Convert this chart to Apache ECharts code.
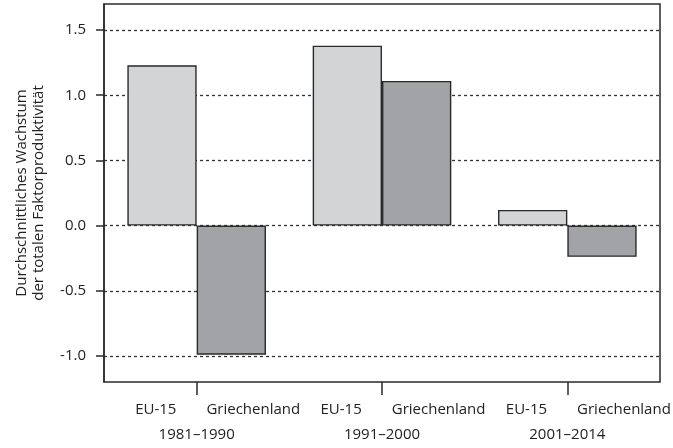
<!DOCTYPE html>
<html>
<head>
<meta charset="utf-8">
<script src="https://cdn.jsdelivr.net/npm/echarts@6/dist/echarts.min.js"></script>
<style>html,body{margin:0;padding:0;background:#fff}#c{width:673px;height:448px}</style>
</head>
<body>
<div id="c"></div>
<script>
const periods = ['1981–1990', '1991–2000', '2001–2014'];
const seriesNames = ['EU-15', 'Griechenland'];
const eu15 = [1.23, 1.38, 0.12];
const greece = [-0.99, 1.11, -0.24];
const yTicks = [-1.0, -0.5, 0.0, 0.5, 1.0, 1.5];
const yTitle = 'Durchschnittliches Wachstum\nder totalen Faktorproduktivität';

const FONT = 'Open Sans';
const INK = '#2a2a2a';
const chart = echarts.init(document.getElementById('c'), null, {renderer: 'canvas'});
chart.setOption({
  animation: false,
  backgroundColor: '#fff',
  textStyle: {fontFamily: FONT},
  grid: {left: 104, right: 13, top: 4, bottom: 66, show: true, borderColor: INK, borderWidth: 1.5,
         backgroundColor: 'transparent', containLabel: false, outerBoundsMode: 'none'},
  xAxis: {
    type: 'category',
    data: periods,
    boundaryGap: true,
    axisLine: {show: false, onZero: false},
    axisTick: {show: true, alignWithLabel: true, length: 13, lineStyle: {color: INK, width: 1.5}},
    axisLabel: {
      margin: 16,
      interval: 0,
      color: '#222',
      fontFamily: FONT,
      fontSize: 15,
      formatter: function (v) {
        return '{a|' + seriesNames[0] + '}{b|' + seriesNames[1] + '}\n{c|' + v + '}';
      },
      rich: {
        a: {padding: [0, 30, 0, 42], fontSize: 15, lineHeight: 24, color: '#222', fontFamily: FONT},
        b: {fontSize: 15, lineHeight: 24, color: '#222', fontFamily: FONT},
        c: {fontSize: 15, lineHeight: 26, color: '#222', fontFamily: FONT}
      }
    }
  },
  yAxis: {
    type: 'value',
    min: -1.2,
    max: 1.7,
    name: yTitle,
    nameLocation: 'middle',
    nameRotate: 90,
    nameGap: 57,
    nameTextStyle: {fontSize: 15, color: '#222', fontFamily: FONT, lineHeight: 17, align: 'center'},
    axisLine: {show: true, lineStyle: {color: INK, width: 1.5}},
    axisTick: {show: true, length: 8, customValues: yTicks, lineStyle: {color: INK, width: 1.5}},
    axisLabel: {
      customValues: yTicks,
      margin: 18,
      fontSize: 15,
      color: '#222',
      fontFamily: FONT,
      formatter: function (v) { return v.toFixed(1); }
    },
    splitLine: {show: true, lineStyle: {color: '#333', width: 1.3, type: [3, 3]}}
  },
  series: [
    {
      name: seriesNames[0], type: 'bar', data: eu15,
      barGap: '0%', barCategoryGap: '25.2%',
      itemStyle: {color: '#d3d4d6', borderColor: INK, borderWidth: 1.4}
    },
    {
      name: seriesNames[1], type: 'bar', data: greece,
      barGap: '0%', barCategoryGap: '25.2%',
      itemStyle: {color: '#a2a3a6', borderColor: INK, borderWidth: 1.4}
    }
  ]
});
</script>
</body>
</html>
